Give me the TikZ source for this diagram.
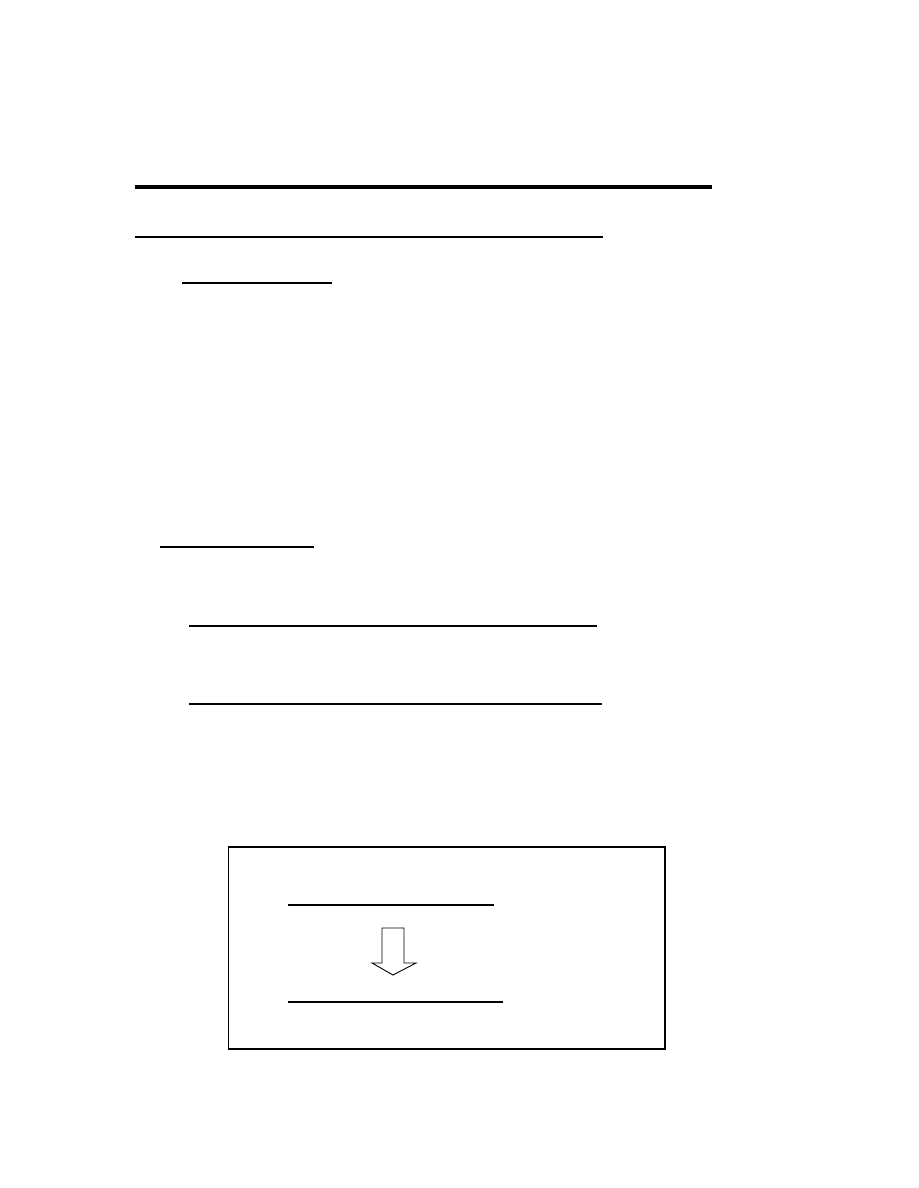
\documentclass[tikz,border=0pt]{standalone}
\begin{document}
\begin{tikzpicture}[x=1pt,y=-1pt,
  rule/.style={draw=black,line width=1.4pt},
  thickrule/.style={draw=black,line width=3.5pt},
  midrule/.style={draw=black,line width=2.5pt}]
\useasboundingbox[fill=white] (0,0) rectangle (918,1188);
% top rules
\draw[thickrule] (135,187) -- (712,187);
\draw[midrule] (135,237) -- (603,237);
\draw[rule] (182,283) -- (332,283);
\draw[rule] (160,547) -- (314,547);
\draw[rule] (189,626) -- (597,626);
\draw[rule] (189,704) -- (602,704);
% framed box
\draw[line width=1.3pt] (228.5,846.5) -- (228.5,1049) -- (665,1049) -- (665,846.5);
\draw[line width=2.4pt] (227.9,847) -- (665.6,847);
\draw[rule] (288,905) -- (494,905);
\draw[rule] (288,1002) -- (503,1002);
% down arrow
\draw[line width=0.9pt,fill=white] (382,928) -- (404,928) -- (404,963) -- (416,963)
  -- (393,975) -- (372,963) -- (382,963) -- cycle;
\end{tikzpicture}
\end{document}
